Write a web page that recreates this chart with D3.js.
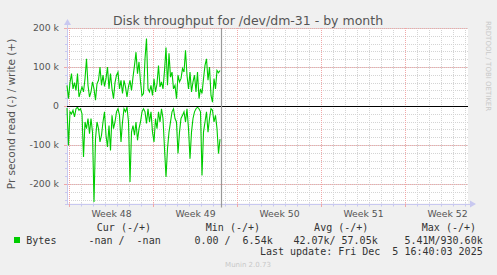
<!DOCTYPE html>
<html>
<head>
<meta charset="utf-8">
<script src="https://cdn.jsdelivr.net/npm/d3@7"></script>
<style>
    body { margin: 0; background: #f0f0f0; }
    svg { display: block; }
    text { font-family: "DejaVu Sans", sans-serif; }
    .mono { font-family: "DejaVu Sans Mono", monospace; font-size: 10px; fill: #333; white-space: pre; }
</style>
</head>
<body>
<div id="chart"></div>
<script>
// Bytes per second, one value every 3 hours from Nov 22 20:00 (UTC)
const writeValues = [
    53, 19, 60, 83, 44, 60, 40, 83, 23, 36, 49, 36, 70, 121, 53, 23, 36, 62, 44, 15,
    57, 66, 100, 53, 79, 50, 70, 100, 44, 83, 44, 19, 60, 79, 87, 44, 66, 32, 66, 49,
    23, 50, 66, 40, 74, 104, 138, 83, 113, 62, 27, 32, 121, 173, 44, 36, 53, 27, 70, 36,
    57, 104, 49, 62, 44, 90, 150, 53, 135, 74, 87, 44, 53, 19, 79, 62, 70, 96, 87, 143,
    79, 44, 87, 36, 62, 79, 36, 87, 19, 44, 32, 70, 104, 121, 66, 100, 27, 10, 70, 44,
    91, 85, 91
].map(d => d * 1000);

const readValues = [
    5, 101, 15, 20, 11, 28, 7, 3, 11, 7, 20, 131, 41, 58, 32, 71, 32, 67, 246, 84,
    41, 58, 92, 75, 41, 15, 75, 105, 50, 114, 24, 58, 41, 15, 7, 24, 92, 41, 7, 15,
    3, 41, 195, 67, 50, 75, 41, 88, 58, 41, 15, 7, 15, 45, 7, 41, 15, 67, 92, 32,
    58, 15, 41, 7, 32, 109, 182, 109, 67, 41, 15, 7, 32, 41, 122, 67, 32, 24, 15, 41,
    7, 58, 135, 67, 32, 15, 7, 3, 7, 15, 178, 67, 41, 15, 67, 32, 7, 11, 41, 24,
    58, 122, 85
].map(d => d * 1000);

const yTicks = [-200000, -100000, 0, 100000, 200000];
const yTickLabels = ["-200 k", "-100 k", "0", "100 k", "200 k"];
const weekLabels = ["Week 48", "Week 49", "Week 50", "Week 51", "Week 52"];
const weekStarts = ["2025-11-23", "2025-11-30", "2025-12-07", "2025-12-14", "2025-12-21"];

const legendHeaders = ["Cur (-/+)", "Min (-/+)", "Avg (-/+)", "Max (-/+)"];
const legendValues = ["-nan /  -nan", "0.00 /  6.54k", "42.07k/ 57.05k", "5.41M/930.60k"];

const seriesColor = "#00cc00";
const startTime = new Date(Date.UTC(2025, 10, 22, 20));
const nowTime = new Date(Date.UTC(2025, 11, 5, 16, 40, 3));
const stepMs = 3 * 3600 * 1000;

const W = 497, H = 275;
const plot = { left: 67, right: 468, top: 28, bottom: 203.5 };

const svg = d3.select("#chart").append("svg")
    .attr("width", W)
    .attr("height", H);

svg.append("rect").attr("width", W).attr("height", H).attr("fill", "#f0f0f0");

const x = d3.scaleUtc()
    .domain([startTime, new Date(startTime.getTime() + 401 / 12 * 86400000)])
    .range([plot.left, plot.right]);

const y = d3.scaleLinear()
    .domain([-250000, 200000])
    .range([plot.bottom, plot.top]);

// plot background
svg.append("rect")
    .attr("x", plot.left)
    .attr("y", plot.top)
    .attr("width", plot.right - plot.left)
    .attr("height", plot.bottom - plot.top)
    .attr("fill", "#ffffff");

const weekDates = weekStarts.map(s => new Date(s + "T00:00:00Z"));
const days = d3.utcDay.range(new Date("2025-11-23T00:00:00Z"), x.domain()[1]);
const minorY = d3.range(-240000, 200001, 20000);
const majorColor = "#f0a8a8";
const minorColor = "#d4d4d4";

const grid = svg.append("g").attr("shape-rendering", "crispEdges");

// minor grid
grid.selectAll(".vminor")
    .data(days)
    .enter().append("line")
    .attr("x1", d => Math.round(x(d)) + 0.5)
    .attr("x2", d => Math.round(x(d)) + 0.5)
    .attr("y1", plot.top)
    .attr("y2", plot.bottom)
    .attr("stroke", minorColor)
    .attr("stroke-dasharray", "1,1");

grid.selectAll(".hminor")
    .data(minorY)
    .enter().append("line")
    .attr("x1", plot.left)
    .attr("x2", plot.right)
    .attr("y1", d => Math.round(y(d)) + 0.5)
    .attr("y2", d => Math.round(y(d)) + 0.5)
    .attr("stroke", minorColor)
    .attr("stroke-dasharray", "1,1");

// major grid
grid.selectAll(".vmajor")
    .data(weekDates)
    .enter().append("line")
    .attr("x1", d => Math.round(x(d)) + 0.5)
    .attr("x2", d => Math.round(x(d)) + 0.5)
    .attr("y1", plot.top)
    .attr("y2", plot.bottom + 3)
    .attr("stroke", majorColor)
    .attr("stroke-dasharray", "1,1");

grid.selectAll(".hmajor")
    .data(yTicks)
    .enter().append("line")
    .attr("x1", plot.left - 3)
    .attr("x2", plot.right)
    .attr("y1", d => Math.round(y(d)) + 0.5)
    .attr("y2", d => Math.round(y(d)) + 0.5)
    .attr("stroke", majorColor)
    .attr("stroke-dasharray", "1,1");

// axes
const yAxis = svg.append("g")
    .attr("transform", `translate(${plot.left},0)`)
    .call(d3.axisLeft(y).tickValues(yTicks).tickSize(0).tickPadding(8)
        .tickFormat((d, i) => yTickLabels[i]));
yAxis.select(".domain").remove();
yAxis.selectAll("text").attr("font-size", "9.3px").attr("fill", "#555").attr("font-family", "DejaVu Sans");

const xMid = weekDates.map(d => new Date(d.getTime() + 3.5 * 86400000));
const xAxis = svg.append("g")
    .attr("transform", `translate(0,${plot.bottom})`)
    .call(d3.axisBottom(x).tickValues(xMid).tickSize(0).tickPadding(7)
        .tickFormat((d, i) => weekLabels[i]));
xAxis.select(".domain").remove();
xAxis.selectAll("text").attr("font-size", "9.3px").attr("fill", "#555").attr("font-family", "DejaVu Sans");

// axis lines and arrows
const axisColor = "#c8c8f0";
svg.append("line")
    .attr("x1", plot.left + 0.5).attr("x2", plot.left + 0.5)
    .attr("y1", plot.bottom + 1).attr("y2", plot.top - 4)
    .attr("stroke", axisColor);
svg.append("line")
    .attr("x1", plot.left - 2).attr("x2", plot.right + 3)
    .attr("y1", Math.round(plot.bottom) + 0.5).attr("y2", Math.round(plot.bottom) + 0.5)
    .attr("stroke", axisColor);
svg.append("path")
    .attr("d", `M${plot.left - 3},${plot.top - 3}L${plot.left + 0.5},${plot.top - 9}L${plot.left + 4},${plot.top - 3}Z`)
    .attr("fill", axisColor);
svg.append("path")
    .attr("d", `M${plot.right + 2},${plot.bottom - 3}L${plot.right + 8},${plot.bottom + 0.5}L${plot.right + 2},${plot.bottom + 4}Z`)
    .attr("fill", axisColor);

// small ticks on axes
svg.selectAll(".ytick")
    .data(minorY)
    .enter().append("line")
    .attr("x1", plot.left - 2).attr("x2", plot.left)
    .attr("y1", d => Math.round(y(d)) + 0.5)
    .attr("y2", d => Math.round(y(d)) + 0.5)
    .attr("stroke", d => d % 100000 === 0 ? majorColor : axisColor);
svg.selectAll(".xtick")
    .data(days)
    .enter().append("line")
    .attr("x1", d => Math.round(x(d)) + 0.5)
    .attr("x2", d => Math.round(x(d)) + 0.5)
    .attr("y1", plot.bottom)
    .attr("y2", plot.bottom + 3)
    .attr("stroke", d => weekDates.some(w => +w === +d) ? majorColor : axisColor);

// series
const times = writeValues.map((d, i) => new Date(startTime.getTime() + i * stepMs));
const line = d3.line()
    .x(d => x(d[0]))
    .y(d => y(d[1]));

const lineGroup = svg.append("g");
lineGroup.append("path")
    .datum(times.map((t, i) => [t, writeValues[i]]))
    .attr("d", line)
    .attr("fill", "none")
    .attr("stroke", seriesColor)
    .attr("stroke-width", 1.1);
lineGroup.append("path")
    .datum(times.map((t, i) => [t, -readValues[i]]))
    .attr("d", line)
    .attr("fill", "none")
    .attr("stroke", seriesColor)
    .attr("stroke-width", 1.1);

// zero line
svg.append("line")
    .attr("x1", plot.left).attr("x2", plot.right)
    .attr("y1", Math.round(y(0)) + 0.5).attr("y2", Math.round(y(0)) + 0.5)
    .attr("stroke", "#000")
    .attr("stroke-width", 1.2);

// now line
svg.append("line")
    .attr("x1", Math.round(x(nowTime)) + 0.5).attr("x2", Math.round(x(nowTime)) + 0.5)
    .attr("y1", plot.top).attr("y2", plot.bottom + 4)
    .attr("stroke", "#999")
    .attr("stroke-width", 1.2);

// title and labels
svg.append("text")
    .attr("x", 248)
    .attr("y", 24.5)
    .attr("text-anchor", "middle")
    .attr("font-size", "12.5px")
    .attr("fill", "#555")
    .text("Disk throughput for /dev/dm-31 - by month");

svg.append("text")
    .attr("transform", "translate(15,114) rotate(-90)")
    .attr("text-anchor", "middle")
    .attr("font-size", "10.5px")
    .attr("fill", "#555")
    .text("Pr second read (-) / write (+)");

svg.append("text")
    .attr("transform", "translate(486,21) rotate(90)")
    .attr("font-size", "7px")
    .attr("fill", "#c8c8c8")
    .text("RRDTOOL / TOBI OETIKER");

// legend
const headerRight = [151, 260, 368.3, 476];
svg.selectAll(".lhead")
    .data(legendHeaders)
    .enter().append("text")
    .attr("class", "mono")
    .attr("x", (d, i) => headerRight[i])
    .attr("y", 231)
    .attr("text-anchor", "end")
    .text(d => d);

svg.append("rect")
    .attr("x", 14).attr("y", 237)
    .attr("width", 6).attr("height", 6)
    .attr("fill", seriesColor);
svg.append("text")
    .attr("class", "mono")
    .attr("x", 26.3)
    .attr("y", 243.5)
    .text("Bytes");

const valueRight = [160.7, 272.7, 377.7, 482.7];
svg.selectAll(".lval")
    .data(legendValues)
    .enter().append("text")
    .attr("class", "mono")
    .attr("x", (d, i) => valueRight[i])
    .attr("y", 243.5)
    .attr("text-anchor", "end")
    .text(d => d);

svg.append("text")
    .attr("class", "mono")
    .attr("x", 482.7)
    .attr("y", 255)
    .attr("text-anchor", "end")
    .text("Last update: Fri Dec  5 16:40:03 2025");

svg.append("text")
    .attr("x", 248)
    .attr("y", 267)
    .attr("text-anchor", "middle")
    .attr("font-size", "7px")
    .attr("fill", "#c8c8c8")
    .text("Munin 2.0.73");
</script>
</body>
</html>
